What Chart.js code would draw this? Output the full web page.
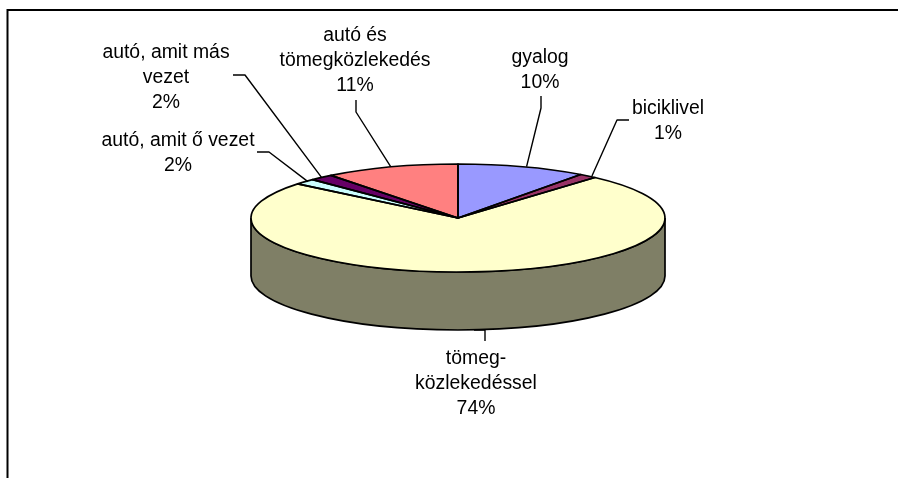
<!DOCTYPE html>
<html>
<head>
<meta charset="utf-8">
<style>html,body{margin:0;padding:0;background:#fff}canvas{display:block}</style>
<script src="https://cdn.jsdelivr.net/npm/chart.js@4"></script>
</head>
<body>
<canvas id="c" width="898" height="478"></canvas>
<script>
const categories = ["gyalog", "biciklivel", "tömegközlekedéssel", "autó, amit ő vezet", "autó, amit más vezet", "autó és tömegközlekedés"];
const values = [10.1, 1.4, 74.4, 1.7, 1.88, 10.52];
const sliceColors = ["#9999FF", "#993366", "#FFFFCC", "#CCFFFF", "#660066", "#FF8080"];
const sideColors = ["#4C4C80", "#4C1933", "#7F7F66", "#668080", "#330033", "#804040"];
const labelLines = [["gyalog"], ["biciklivel"], ["tömeg-", "közlekedéssel"], ["autó, amit ő vezet"], ["autó, amit más", "vezet"], ["autó és", "tömegközlekedés"]];

const CX = 458, CY = 218, RX = 207, RY = 54, DEPTH = 58;
const LINE_H = 25, FONT = '19.4px "Liberation Sans", Arial, sans-serif';
// label centre x, first-line baseline y, the leader's outer points, and a nudge of its inner end
const labelLayout = [
  { x: 540, y: 63, leader: [[541, 96], [541, 108]], dx: 4 },
  { x: 668, y: 114, leader: [[629, 120], [617, 120]], dx: 4 },
  { x: 476, y: 364, leader: [[485, 341], [485, 330], [474, 330]], dx: 0 },
  { x: 178, y: 146, leader: [[257, 152], [269, 152]], dx: 3 },
  { x: 166, y: 58, leader: [[233, 75], [245, 75]], dx: 0 },
  { x: 355, y: 41, leader: [[356, 100], [356, 112]], dx: 0 }
];

const pie3d = {
  id: 'pie3d',
  beforeDatasetsDraw(chart) {
    const ctx = chart.ctx, arcs = chart.getDatasetMeta(0).data;
    // wall of the disc: the parts of each slice that face the viewer
    arcs.forEach((a, i) => {
      const s = Math.max(a.startAngle, 0), e = Math.min(a.endAngle, Math.PI);
      if (e <= s) return;
      ctx.save();
      ctx.beginPath();
      ctx.ellipse(CX, CY, RX, RY, 0, s, e, false);
      ctx.ellipse(CX, CY + DEPTH, RX, RY, 0, e, s, true);
      ctx.closePath();
      ctx.fillStyle = sideColors[i];
      ctx.fill();
      ctx.strokeStyle = '#000';
      ctx.lineWidth = 1.7;
      ctx.stroke();
      ctx.restore();
    });
    const a0 = arcs[0];
    ctx.save();
    ctx.translate(CX, CY);
    ctx.scale(1, RY / RX);
    ctx.translate(-a0.x, -a0.y);
  },
  afterDatasetsDraw(chart) {
    const ctx = chart.ctx, arcs = chart.getDatasetMeta(0).data;
    ctx.restore();
    ctx.strokeStyle = '#000';
    ctx.lineWidth = 1.7;
    ctx.lineJoin = 'round';
    arcs.forEach(a => {
      ctx.beginPath();
      ctx.moveTo(CX, CY);
      ctx.ellipse(CX, CY, RX, RY, 0, a.startAngle, a.endAngle, false);
      ctx.closePath();
      ctx.stroke();
    });
    // leaders and data labels
    const total = values.reduce((p, v) => p + v, 0);
    ctx.font = FONT;
    ctx.textAlign = 'center';
    ctx.textBaseline = 'alphabetic';
    arcs.forEach((a, i) => {
      const mid = (a.startAngle + a.endAngle) / 2;
      const L = labelLayout[i];
      ctx.beginPath();
      L.leader.forEach((p, k) => k ? ctx.lineTo(p[0], p[1]) : ctx.moveTo(p[0], p[1]));
      if (i !== 2) ctx.lineTo(CX + RX * Math.cos(mid) + L.dx, CY + RY * Math.sin(mid));
      ctx.lineWidth = 1.4;
      ctx.stroke();
      const lines = labelLines[i].concat(Math.round(values[i] / total * 100) + '%');
      ctx.fillStyle = '#000';
      lines.forEach((t, k) => ctx.fillText(t, L.x, L.y + k * LINE_H));
    });
  }
};

const frame = {
  id: 'frame',
  beforeDraw(chart) {
    const ctx = chart.ctx;
    ctx.save();
    ctx.strokeStyle = '#000';
    ctx.lineWidth = 2;
    ctx.beginPath();
    ctx.moveTo(7.5, 478);
    ctx.lineTo(7.5, 10);
    ctx.lineTo(898, 10);
    ctx.stroke();
    ctx.restore();
  }
};

new Chart(document.getElementById('c'), {
  type: 'pie',
  data: {
    labels: categories,
    datasets: [{ data: values, backgroundColor: sliceColors, borderWidth: 0 }]
  },
  options: {
    responsive: false,
    animation: false,
    layout: { padding: { top: 32, bottom: 32 } },
    plugins: { legend: { display: false }, tooltip: { enabled: false } }
  },
  plugins: [frame, pie3d]
});
</script>
</body>
</html>
